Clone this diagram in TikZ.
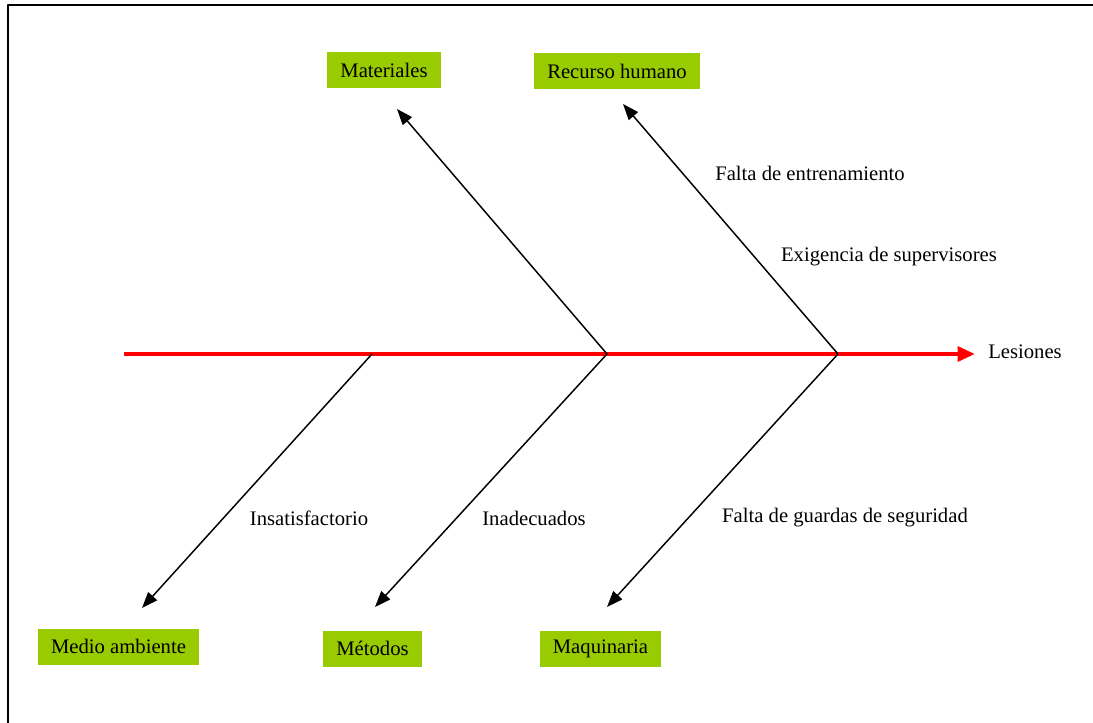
\documentclass[tikz,border=0pt]{standalone}
\usepackage{fontspec}
\setmainfont{Liberation Serif}
\usetikzlibrary{arrows.meta}
\definecolor{causegreen}{HTML}{99CC00}
\tikzset{
  cause/.style={fill=causegreen,minimum height=27pt,inner xsep=10pt,inner ysep=0pt},
  bone/.style={-{Triangle[length=12pt,width=9pt]},line width=1.1pt},
  spine/.style={-{Triangle[length=13pt,width=11pt]},line width=3pt,red},
  note/.style={inner sep=0pt}
}
\begin{document}
\begin{tikzpicture}[x=0.75pt,y=-0.75pt,line join=round,font=\fontsize{15.5}{18}\selectfont]
\useasboundingbox (0,0) rectangle (1093,723);
\draw[line width=1.5pt](8,723)--(8,5)--(1093,5);

    % junctions on the spine
    \coordinate (tail) at (124,354);
    \coordinate (head) at (975,354);
    \coordinate (j1) at (372,354);
    \coordinate (j2) at (607,354);
    \coordinate (j3) at (838,354);

    % arrow tips
    \coordinate (tmat) at (397,109);
    \coordinate (trec) at (623,104);
    \coordinate (tmed) at (142,608);
    \coordinate (tmet) at (375,607);
    \coordinate (tmaq) at (607,607);

    \node[cause] (mat) at (384,70) {Materiales};
    \node[cause] (rec) at (617,71) {Recurso humano};
    \node[cause] (med) at (118.5,646.5) {Medio ambiente};
    \node[cause] (met) at (372.5,648.5) {Métodos};
    \node[cause] (maq) at (600.5,648.5) {Maquinaria};

\draw[spine](tail)--(head);
\node[note,anchor=west] (les) at (988,352) {Lesiones};

\draw[bone](j2)--(tmat);
\draw[bone](j3)--(trec);
\draw[bone](j1)--(tmed);
\draw[bone](j2)--(tmet);
\draw[bone](j3)--(tmaq);

    \node[note] (n1) at (810,173) {Falta de entrenamiento};
    \node[note] (n2) at (889,257) {Exigencia de supervisores};
    \node[note] (n3) at (309,518) {Insatisfactorio};
    \node[note] (n4) at (534,518) {Inadecuados};
    \node[note] (n5) at (845,518) {Falta de guardas de seguridad};
\end{tikzpicture}
\end{document}
